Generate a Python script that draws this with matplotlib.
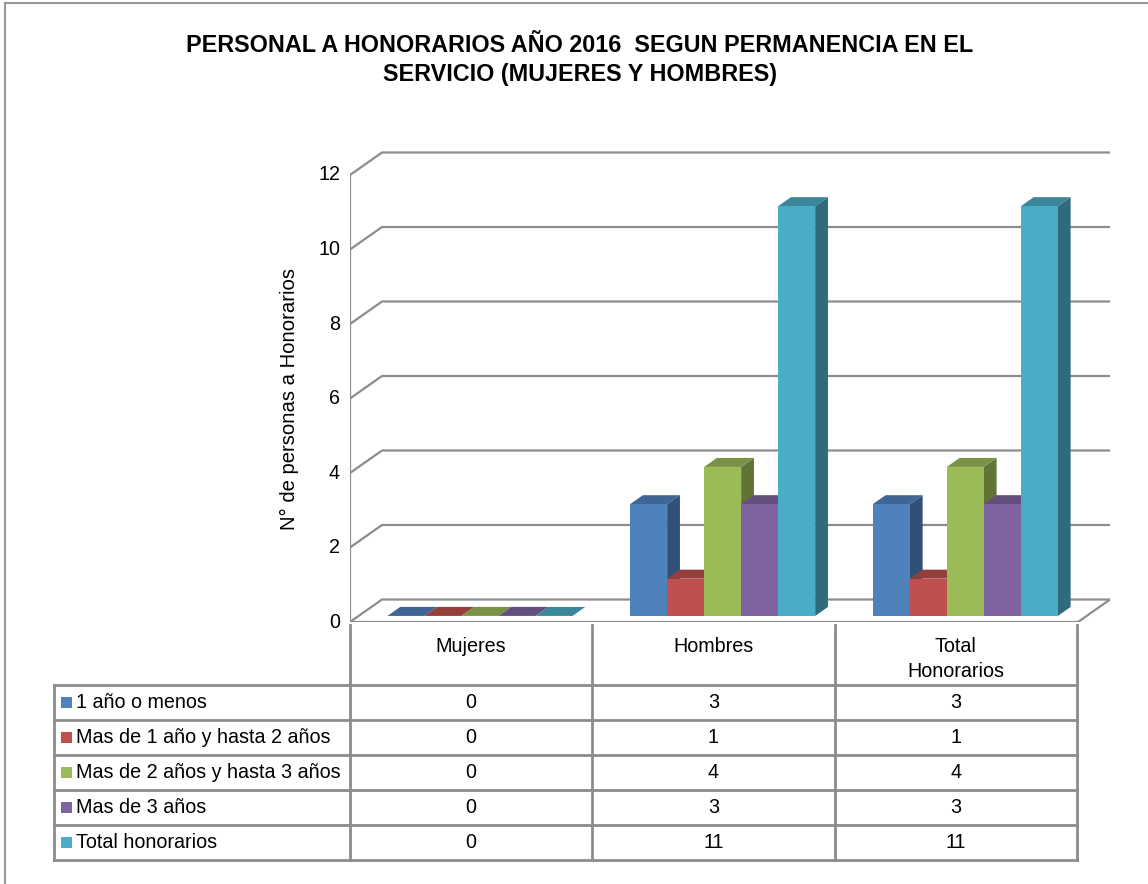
import numpy as np
import matplotlib
matplotlib.use("Agg")
import matplotlib.pyplot as plt
from matplotlib.patches import Polygon, Rectangle
from matplotlib.lines import Line2D
from matplotlib.colors import to_rgb

plt.rcParams['font.family'] = ['Liberation Sans', 'DejaVu Sans']

# data
categories = ["Mujeres", "Hombres", "Total\nHonorarios"]
series_names = ["1 año o menos", "Mas de 1 año y hasta 2 años",
                "Mas de 2 años y hasta 3 años", "Mas de 3 años", "Total honorarios"]
uno_o_menos = [0, 3, 3]
uno_a_dos = [0, 1, 1]
dos_a_tres = [0, 4, 4]
mas_de_tres = [0, 3, 3]
total_hon = [0, 11, 11]
series_values = [uno_o_menos, uno_a_dos, dos_a_tres, mas_de_tres, total_hon]
colors = ["#4F81BD", "#C0504D", "#9BBB59", "#8064A2", "#4BACC6"]
yticks = [0, 2, 4, 6, 8, 10, 12]

W, H = 1148, 884
fig = plt.figure(figsize=(W / 100, H / 100), dpi=100)
FS = 14.2

# pixel helpers for layout only
def fx(px):
    return px / W

def fy(py):
    return 1 - py / H

# chart axes: front plane x 350..1110 px, y 622 (0) .. 140 px
PX_PER_CAT = 242.67
PX_PER_VAL = 37.25
ax_l, ax_r, ax_b, ax_t = 350, 1110, 622, 140
ax = fig.add_axes([fx(ax_l), fy(ax_b), fx(ax_r - ax_l), (ax_b - ax_t) / H])
ax.set_xlim(0, (ax_r - ax_l) / PX_PER_CAT)
ax.set_ylim(0, (ax_b - ax_t) / PX_PER_VAL)
ax.axis("off")

# 3d depth in data units
DX = 32 / PX_PER_CAT
DY = 22.5 / PX_PER_VAL
grid_c = "#8c8c8c"
ncat = len(categories)

# back wall gridlines + left diagonals
for v in yticks:
    ax.plot([0, DX, ncat + DX], [v, v + DY, v + DY], color=grid_c, lw=1.6,
            zorder=1, solid_capstyle="butt")
    ax.text(-10 / PX_PER_CAT, v, str(v), ha="right", va="center", fontsize=FS)
# left axis line and floor
ax.plot([0, 0], [0, max(yticks)], color=grid_c, lw=1.6, zorder=1)
ax.plot([0, ncat, ncat + DX], [0, 0, DY], color=grid_c, lw=1.6, zorder=1)

ax.text(-61 / (ax_r - ax_l), 6, "N° de personas a Honorarios", rotation=90,
        ha="center", va="center", fontsize=14.6,
        transform=ax.get_yaxis_transform())

def shade(c, f):
    r, g, b = to_rgb(c)
    return (r * f, g * f, b * f)

# bars
nser = len(series_values)
bw = 0.1525
d0, d1 = 0.27, 0.67
for i in range(ncat):
    for k in range(nser):
        v = series_values[k][i]
        x = i + 0.5 - nser * bw / 2 + k * bw
        c = colors[k]
        xa, ya = x + d0 * DX, d0 * DY
        xb, yb = x + d1 * DX, d1 * DY
        side = [(xa + bw, ya), (xb + bw, yb), (xb + bw, v + yb), (xa + bw, v + ya)]
        top = [(xa, v + ya), (xa + bw, v + ya), (xb + bw, v + yb), (xb, v + yb)]
        ax.add_patch(Polygon(side, closed=True, fc=shade(c, 0.62), ec="none", zorder=3))
        ax.add_patch(Polygon(top, closed=True, fc=shade(c, 0.78), ec="none", zorder=3))
        if v > 0:
            ax.add_patch(Rectangle((xa, ya), bw, v, fc=c, ec="none", zorder=3))

# data table below the chart, columns aligned with categories
tb_l, tb_r, tb_t, tb_b = 54, 1077, 622, 860
tx = fig.add_axes([fx(tb_l), fy(tb_b), fx(tb_r - tb_l), (tb_b - tb_t) / H])
x_leg = -(350 - tb_l) / PX_PER_CAT
tx.set_xlim(x_leg, ncat)
hdr = 63 / 35
tx.set_ylim(hdr + nser, 0)
tx.axis("off")
lc = "#8c8c8c"
for r in range(nser + 1):
    tx.plot([x_leg, ncat], [hdr + r, hdr + r], color=lc, lw=2, clip_on=False)
tx.plot([x_leg, x_leg], [hdr, hdr + nser], color=lc, lw=2, clip_on=False)
for i in range(ncat + 1):
    tx.plot([i, i], [0.08, hdr + nser], color=lc, lw=2, clip_on=False)
for i, cat in enumerate(categories):
    tx.text(i + 0.5, 0.42, cat, ha="center", va="top", fontsize=FS,
            linespacing=1.45)
sw = 11 / PX_PER_CAT
for k, name in enumerate(series_names):
    yc = hdr + k + 0.5
    tx.add_patch(Rectangle((x_leg + 7 / PX_PER_CAT, yc - 0.16), sw, 0.32,
                           fc=colors[k], ec="none", clip_on=False))
    tx.text(x_leg + 22 / PX_PER_CAT, yc, name, ha="left", va="center", fontsize=FS)
    for i in range(ncat):
        tx.text(i + 0.5, yc, str(series_values[k][i]), ha="center", va="center",
                fontsize=FS)

# title
fig.text(0.505, fy(45), "PERSONAL A HONORARIOS AÑO 2016  SEGUN PERMANENCIA EN EL",
         ha="center", va="center", fontsize=16.8, fontweight="bold")
fig.text(0.505, fy(75), "SERVICIO (MUJERES Y HOMBRES)",
         ha="center", va="center", fontsize=16.8, fontweight="bold")

# outer chart border
fig.add_artist(Line2D([fx(5), 1], [fy(3), fy(3)], color="#999999", lw=1.5))
fig.add_artist(Line2D([fx(5), fx(5)], [fy(3), 0], color="#999999", lw=1.5))

fig.savefig("out.png", dpi=100)
